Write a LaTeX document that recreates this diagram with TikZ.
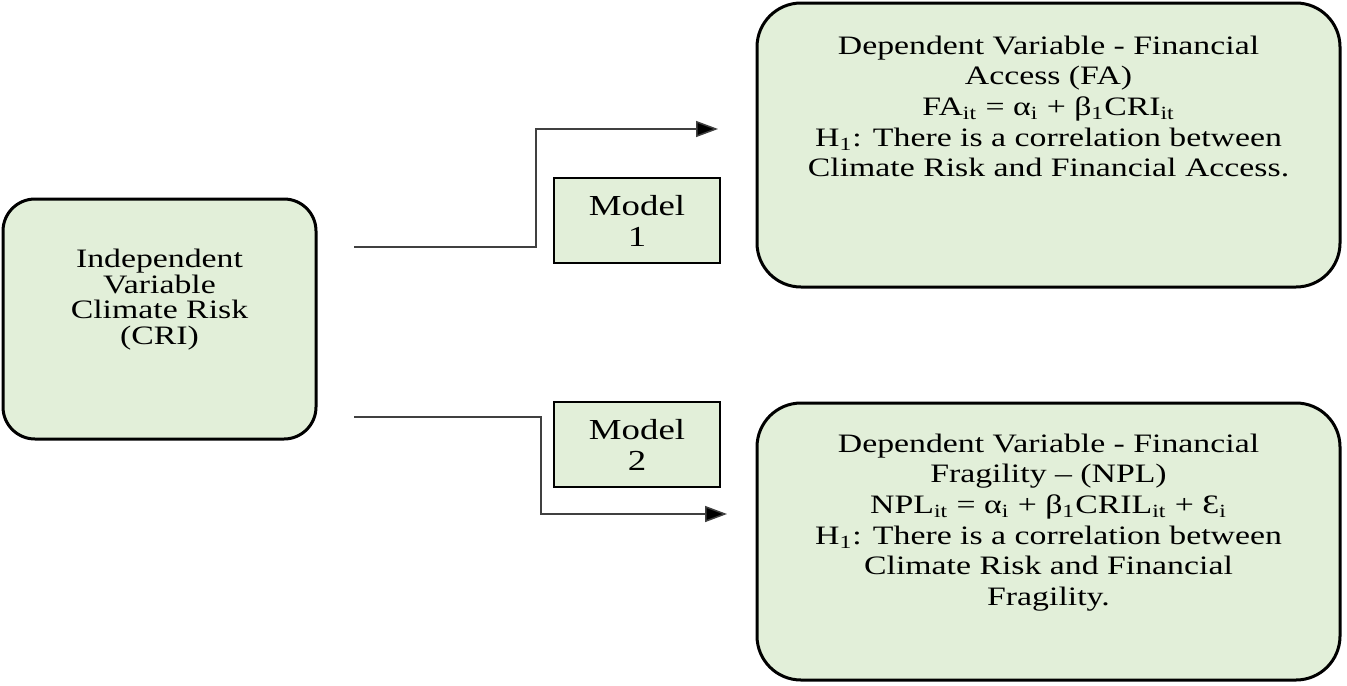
\documentclass[tikz,border=0pt]{standalone}
\usepackage{fontspec}
\setmainfont[FakeStretch=1.27]{Liberation Serif}
\usetikzlibrary{
    arrows.meta,
    positioning
}
\definecolor{boxgreen}{HTML}{E2EFD9}
\definecolor{linegray}{HTML}{404040}

\begin{document}
\begin{tikzpicture}[x=0.5pt, y=-0.5pt,
    varbox/.style={
        rectangle,
        rounded corners=22pt,
        draw=black,
        fill=boxgreen,
        line width=1.5pt,
        inner sep=0pt
    },
    modelbox/.style={
        rectangle,
        draw=black,
        fill=boxgreen,
        line width=1.4pt,
        align=center,
        inner sep=0pt,
        minimum width=83pt,
        minimum height=42.5pt,
        font=\fontsize{14.5}{15.5}\selectfont
    },
    boxtext/.style={
        align=center,
        inner sep=0pt,
        font=\fontsize{13.3}{15.3}\selectfont
    },
    arrow/.style={-{Triangle[length=11pt,width=8pt,fill=black]}, line width=0.75pt, linegray}
]
\useasboundingbox (0,0) rectangle (1347,685);

% ===== Independent variable =====
\node[varbox, rounded corners=16pt, minimum width=156.5pt, minimum height=120pt] (cri) at (159.5,319) {};
\node[boxtext, font=\fontsize{13.3}{12.85}\selectfont, below=25.5pt of cri.north] (critext) {Independent\\Variable\\Climate Risk\\(CRI)};

% ===== Dependent variables =====
\node[varbox, minimum width=291.5pt, minimum height=142pt] (fa) at (1048.5,145) {};
\node[boxtext, below=17pt of fa.north] (fatext) {Dependent Variable - Financial\\Access (FA)\\FA\textsubscript{it} = α\textsubscript{i} + β\textsubscript{1}CRI\textsubscript{it}\\H\textsubscript{1}: There is a correlation between\\Climate Risk and Financial Access.};

\node[varbox, minimum width=291.5pt, minimum height=138.5pt] (npl) at (1048.5,541.5) {};
\node[boxtext, below=16pt of npl.north] (npltext) {Dependent Variable - Financial\\Fragility – (NPL)\\NPL\textsubscript{it} = α\textsubscript{i} + β\textsubscript{1}CRIL\textsubscript{it} + Ɛ\textsubscript{i}\\H\textsubscript{1}: There is a correlation between\\Climate Risk and Financial\\Fragility.};

% ===== Models =====
\node[modelbox] (model1) at (637,220.5) {Model\\1};
\node[modelbox] (model2) at (637,444.5) {Model\\2};

% connectors
\coordinate (upstart) at (354,247);
\coordinate (upbend) at (536,129);
\coordinate (uptip) at (718,129);
\coordinate (lowstart) at (354,417);
\coordinate (lowbend) at (541,514);
\coordinate (lowtip) at (727,514);

\draw[arrow] (upstart) -| (upbend) -- (uptip);
\draw[arrow] (lowstart) -| (lowbend) -- (lowtip);

\end{tikzpicture}
\end{document}
